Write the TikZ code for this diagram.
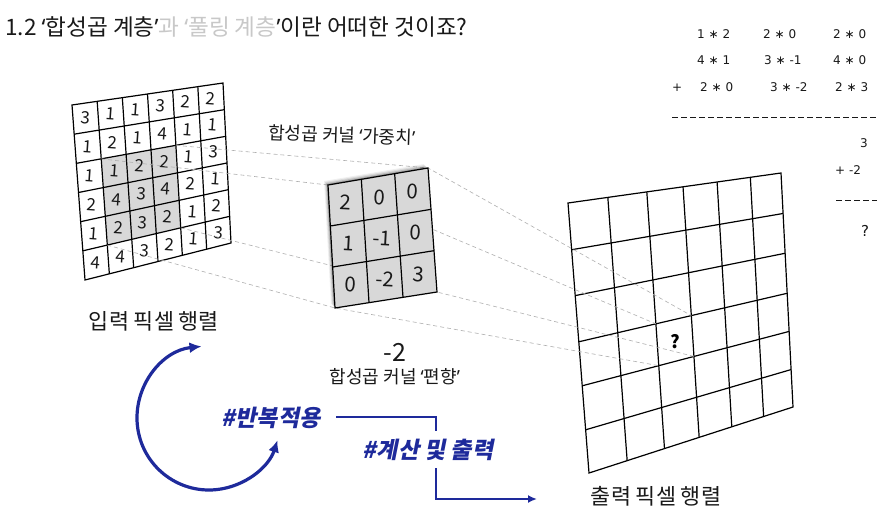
\documentclass[tikz,border=0pt]{standalone}
\usepackage{fontspec}
\setmainfont{Noto Sans CJK KR}
\newfontfamily\qf{Noto Sans}
\newfontfamily\krbi{Noto Sans CJK KR}[FakeSlant=0.2]
\newfontfamily\hand{DejaVu Sans}
\usetikzlibrary{calc,arrows.meta}
\definecolor{nblue}{RGB}{30,42,155}
\definecolor{dgray}{RGB}{175,175,175}
\definecolor{cellgray}{RGB}{216,216,216}
\definecolor{titlegray}{RGB}{200,200,200}
\definecolor{ink}{RGB}{25,25,25}
\newcommand\ql{{\qf ‘}}
\newcommand\qr{{\qf ’}}
\begin{document}
\begin{tikzpicture}[x=1pt,y=-1pt,
  gridl/.style={line width=1.2pt, draw=black},
  dline/.style={draw=dgray, line width=0.6pt, dash pattern=on 4pt off 3pt},
  numin/.style={font=\fontsize{17}{17}\selectfont, inner sep=0pt, rotate=-4, text=ink},
  numk/.style={font=\fontsize{20.5}{20.5}\selectfont, inner sep=0pt, rotate=-3, text=ink},
  lbl/.style={font=\fontsize{21.8}{23}\selectfont, inner sep=0pt, text=ink},
  klbl/.style={font=\fontsize{18}{20}\selectfont, inner sep=0pt, text=ink},
  tag/.style={font=\krbi\bfseries\fontsize{23}{25}\selectfont, text=nblue, inner sep=0pt},
  hw/.style={font=\hand\fontsize{12}{13}\selectfont, inner sep=0pt, anchor=mid west, text=ink},
  bconn/.style={draw=nblue, line width=2.2pt},
]
\clip (0,0) rectangle (877,508);
\fill[white] (0,0) rectangle (877,508);

% corners
\coordinate (inTL) at (72,105);  \coordinate (inTR) at (223,83);
\coordinate (inBL) at (85,280);  \coordinate (inBR) at (231,243);
\coordinate (kTL) at (328,185);  \coordinate (kTR) at (428,168);
\coordinate (kBL) at (335,308);  \coordinate (kBR) at (437,292);
\coordinate (outTL) at (568,203); \coordinate (outTR) at (781,173);
\coordinate (outBL) at (589,473); \coordinate (outBR) at (793,407);

% title
\node[lbl, anchor=west, font=\fontsize{22.6}{24}\selectfont] (title) at (5,27) {1.2 \ql 합성곱 계층\qr\textcolor{titlegray}{과 \ql 풀링 계층}\qr 이란 어떠한 것이죠?};

% ---------- input grid ----------
\fill[white] (inTL) -- (inTR) -- (inBR) -- (inBL) -- cycle;
\coordinate (gTL) at ($($(inTL)!1/6!(inTR)$)!2/6!($(inBL)!1/6!(inBR)$)$);
\coordinate (gTR) at ($($(inTL)!4/6!(inTR)$)!2/6!($(inBL)!4/6!(inBR)$)$);
\coordinate (gBR) at ($($(inTL)!4/6!(inTR)$)!5/6!($(inBL)!4/6!(inBR)$)$);
\coordinate (gBL) at ($($(inTL)!1/6!(inTR)$)!5/6!($(inBL)!1/6!(inBR)$)$);
\fill[cellgray] (gTL) -- (gTR) -- (gBR) -- (gBL) -- cycle;
\foreach \i in {1,...,5}{
  \draw[gridl] ($(inTL)!\i/6!(inTR)$) -- ($(inBL)!\i/6!(inBR)$);
  \draw[gridl] ($(inTL)!\i/6!(inBL)$) -- ($(inTR)!\i/6!(inBR)$);
}
\draw[gridl] (inTL) -- (inTR) -- (inBR) -- (inBL) -- cycle;
\foreach \rowvals [count=\r from 0] in {{3,1,1,3,2,2},{1,2,1,4,1,1},{1,1,2,2,1,3},{2,4,3,4,2,1},{1,2,3,2,1,2},{4,4,3,2,1,3}}{
  \foreach \val [count=\c from 0] in \rowvals {
    \pgfmathsetmacro\uu{(\c+0.5)/6}
    \pgfmathsetmacro\vv{(\r+0.5)/6}
    \node[numin] (in-\r-\c) at ($($(inTL)!\uu!(inTR)$)!\vv!($(inBL)!\uu!(inBR)$)$) {\val};
  }
}
\node[lbl] (inlabel) at (154,321) {입력 픽셀 행렬};

% ---------- output grid ----------
\fill[white] (outTL) -- (outTR) -- (outBR) -- (outBL) -- cycle;
\foreach \f in {0.187,0.37,0.54,0.70,0.856}{
  \draw[gridl] ($(outTL)!\f!(outTR)$) -- ($(outBL)!\f!(outBR)$);
}
\foreach \f in {0.173,0.343,0.514,0.677,0.84}{
  \draw[gridl] ($(outTL)!\f!(outBL)$) -- ($(outTR)!\f!(outBR)$);
}
\draw[gridl] (outTL) -- (outTR) -- (outBR) -- (outBL) -- cycle;
\coordinate (oTL) at ($($(outTL)!0.37!(outTR)$)!0.514!($(outBL)!0.37!(outBR)$)$);
\coordinate (oTR) at ($($(outTL)!0.54!(outTR)$)!0.514!($(outBL)!0.54!(outBR)$)$);
\coordinate (oBL) at ($($(outTL)!0.37!(outTR)$)!0.677!($(outBL)!0.37!(outBR)$)$);
\coordinate (oBR) at ($($(outTL)!0.54!(outTR)$)!0.677!($(outBL)!0.54!(outBR)$)$);
\node[font=\bfseries\fontsize{18}{18}\selectfont, inner sep=0pt] (qm) at (675,342) {?};
\node[lbl] (outlabel) at (656,496) {출력 픽셀 행렬};

% ---------- projection lines ----------
\draw[dline] (gTL) -- (kTL) -- (oTL);
\draw[dline] (gTR) -- (kTR) -- (oTR);
\draw[dline] (gBL) -- (kBL) -- (oBL);
\draw[dline] (gBR) -- (kBR) -- (oBR);

% ---------- kernel ----------
\foreach \s/\o in {4/0.06,3/0.09,2/0.13,1/0.2}{
  \fill[black, opacity=\o] ([shift={(-\s,-\s)}]kTL) -- ([shift={(-\s,-\s)}]kTR) -- ([shift={(-\s,-\s)}]kBR) -- ([shift={(-\s,-\s)}]kBL) -- cycle;
}
\fill[cellgray] (kTL) -- (kTR) -- (kBR) -- (kBL) -- cycle;
\foreach \i in {1,2}{
  \draw[gridl] ($(kTL)!\i/3!(kTR)$) -- ($(kBL)!\i/3!(kBR)$);
  \draw[gridl] ($(kTL)!\i/3!(kBL)$) -- ($(kTR)!\i/3!(kBR)$);
}
\draw[gridl] (kTL) -- (kTR) -- (kBR) -- (kBL) -- cycle;
\foreach \rowvals [count=\r from 0] in {{2,0,0},{1,-1,0},{0,-2,3}}{
  \foreach \val [count=\c from 0] in \rowvals {
    \pgfmathsetmacro\uu{(\c+0.5)/3}
    \pgfmathsetmacro\vv{(\r+0.5)/3}
    \node[numk] (k-\r-\c) at ($($(kTL)!\uu!(kTR)$)!\vv!($(kBL)!\uu!(kBR)$)$) {\val};
  }
}
\node[klbl, rotate=-2] (klabel) at (342,135) {합성곱 커널 \ql 가중치\qr};
\node[font=\fontsize{25}{25}\selectfont, inner sep=0pt, text=ink] (bias) at (395,352) {-2};
\node[klbl] (blabel) at (395,377) {합성곱 커널 \ql 편향\qr};

% ---------- blue arrows ----------
\coordinate (arcC) at (209,418);
\draw[draw=nblue, line width=3.2pt, {Latex[length=12pt,width=11pt]}-{Latex[length=12pt,width=11pt]}]
  ($(arcC)+(-96:72)$) arc[start angle=-96, end angle=-342, radius=72];
\node[tag] (rep) at (271,418) {\#반복적용};
\node[tag] (calc) at (428,450) {\#계산 및 출력};
\coordinate (e1) at (336,417);
\coordinate (e2) at (436,431);
\coordinate (e3) at (436,468);
\coordinate (e4) at (537,499);
\draw[bconn] (e1) -| (e2);
\draw[bconn, -{Latex[length=9pt,width=8pt]}] (e3) |- (e4);

% ---------- side calculation ----------
\node[hw] (c11) at (697,36) {1 ∗ 2};
\node[hw] (c12) at (763,36) {2 ∗ 0};
\node[hw] (c13) at (833,36) {2 ∗ 0};
\node[hw] (c21) at (697,62) {4 ∗ 1};
\node[hw] (c22) at (764,62) {3 ∗ -1};
\node[hw] (c23) at (833,62) {4 ∗ 0};
\node[hw] (cplus) at (672,89) {+};
\node[hw] (c31) at (700,89) {2 ∗ 0};
\node[hw] (c32) at (770,89) {3 ∗ -2};
\node[hw] (c33) at (835,89) {2 ∗ 3};
\coordinate (d1a) at (672,117); \coordinate (d1b) at (880,117);
\draw[ink, line width=0.8pt, dash pattern=on 6pt off 3pt] (d1a) -- (d1b);
\node[hw] (s1) at (860,145) {3};
\node[hw] (s2) at (835,172) {+ -2};
\coordinate (d2a) at (836,200); \coordinate (d2b) at (880,200);
\draw[ink, line width=0.8pt, dash pattern=on 6pt off 3pt] (d2a) -- (d2b);
\node[hw, font=\hand\fontsize{15}{15}\selectfont] (s3) at (861,234) {?};
\end{tikzpicture}
\end{document}
